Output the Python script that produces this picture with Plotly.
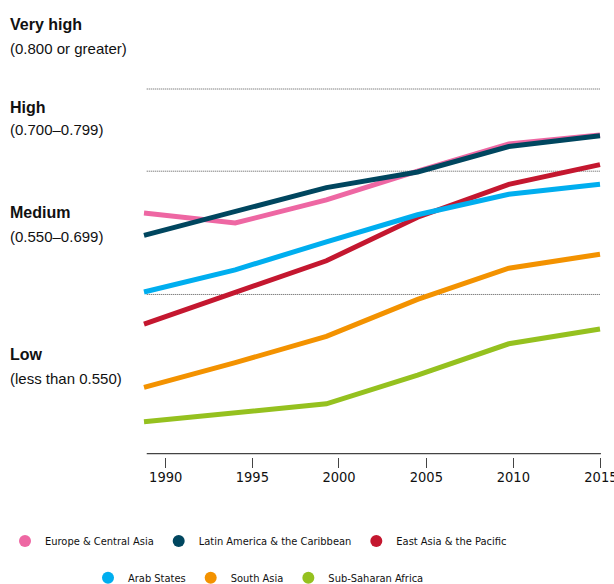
import plotly.graph_objects as go

# ---------------- data ----------------
years = [1990, 1995, 2000, 2005, 2010, 2015]
europe_central_asia = [0.649, 0.637, 0.665, 0.700, 0.733, 0.744]
latin_america_caribbean = [0.622, 0.651, 0.680, 0.699, 0.730, 0.743]
east_asia_pacific = [0.514, 0.552, 0.591, 0.644, 0.684, 0.708]
arab_states = [0.553, 0.580, 0.614, 0.647, 0.672, 0.684]
south_asia = [0.437, 0.467, 0.499, 0.544, 0.582, 0.599]
sub_saharan_africa = [0.395, 0.406, 0.417, 0.452, 0.490, 0.508]

series_names = ["Europe & Central Asia", "Latin America & the Caribbean",
                "East Asia & the Pacific", "Arab States", "South Asia",
                "Sub-Saharan Africa"]
series_values = [europe_central_asia, latin_america_caribbean, east_asia_pacific,
                 arab_states, south_asia, sub_saharan_africa]
series_colors = ["#EE67A3", "#00465F", "#C4172F", "#00AEEF", "#F39200", "#95C11F"]

tick_labels = ["1990", "1995", "2000", "2005", "2010", "2015"]
tick_positions = [1991.19, 1995.94, 2000.69, 2005.48, 2010.25, 2015.05]

threshold_values = [0.800, 0.700, 0.550]
group_titles = ["Very high", "High", "Medium", "Low"]
group_ranges = ["(0.800 or greater)", "(0.700\u20130.799)", "(0.550\u20130.699)",
                "(less than 0.550)"]

# ---------------- layout geometry (pixels) ----------------
W, H = 614, 584
PL, PT, PW = 140, 80, 464
PB = 456.7
PH = PB - PT

def py_to_paper(py):
    return (PB - py) / PH

def px_to_paper(px):
    return (px - PL) / PW

fig = go.Figure()

for name, vals, col in zip(series_names, series_values, series_colors):
    fig.add_trace(go.Scatter(x=years, y=vals, mode="lines", name=name,
                             line=dict(color=col, width=5), showlegend=False,
                             hoverinfo="skip"))

# legend-only entries (circle markers)
for i, (name, col) in enumerate(zip(series_names, series_colors)):
    fig.add_trace(go.Scatter(x=[None], y=[None], mode="markers", name=name,
                             marker=dict(color=col, size=12),
                             legend="legend" if i < 3 else "legend2"))

shapes = []
for v in threshold_values:
    shapes.append(dict(type="line", xref="x", yref="y", x0=1990.15, x1=2015.0,
                       y0=v, y1=v, layer="below",
                       line=dict(color="#555555", width=1, dash="1px,1px")))
# axis line
shapes.append(dict(type="line", xref="x", yref="paper", x0=1990.15, x1=2015.05,
                   y0=py_to_paper(453.3), y1=py_to_paper(453.3), layer="below",
                   line=dict(color="#444444", width=1.3)))

annotations = []
title_centers = [24.4, 107.4, 212.7, 354.4]
range_centers = [48.1, 129.8, 236.3, 377.8]
for t, r, ty, ry in zip(group_titles, group_ranges, title_centers, range_centers):
    annotations.append(dict(text="<b>%s</b>" % t, xref="paper", yref="paper",
                            x=px_to_paper(8), y=py_to_paper(ty), xanchor="left",
                            yanchor="middle", showarrow=False,
                            font=dict(family="Liberation Sans, Arial, sans-serif",
                                      size=16, color="#111111")))
    annotations.append(dict(text=r, xref="paper", yref="paper",
                            x=px_to_paper(8), y=py_to_paper(ry), xanchor="left",
                            yanchor="middle", showarrow=False,
                            font=dict(family="Liberation Sans, Arial, sans-serif",
                                      size=15, color="#111111")))

narrow = "DejaVu Sans Condensed, Liberation Sans Narrow, sans-serif"

y0v = 0.8 - (PB - 89) / 821.2
y1v = 0.8 + (89 - PT) / 821.2
sx = 456 / 25.0
x0v = 1990 - (144 - PL) / sx
x1v = x0v + PW / sx

fig.update_layout(
    width=W, height=H,
    margin=dict(l=PL, r=W - PL - PW, t=PT, b=H - PB, autoexpand=False),
    paper_bgcolor="white", plot_bgcolor="white",
    xaxis=dict(range=[x0v, x1v], showgrid=False, zeroline=False, showline=False,
               tickmode="array", tickvals=tick_positions, ticktext=tick_labels,
               ticks="outside", ticklen=10, tickwidth=1.3, tickcolor="#444444",
               tickfont=dict(family=narrow, size=14.5, color="#111111"),
               ticklabeloverflow="allow", ticklabelstandoff=-3,
               fixedrange=True),
    yaxis=dict(range=[y0v, y1v], visible=False, fixedrange=True),
    shapes=shapes,
    annotations=annotations,
    legend=dict(orientation="h", xref="paper", yref="paper",
                x=px_to_paper(5), y=py_to_paper(540.7), xanchor="left",
                yanchor="middle",
                font=dict(family=narrow, size=11, color="#111111"),
                bgcolor="rgba(0,0,0,0)"),
    legend2=dict(orientation="h", xref="paper", yref="paper",
                 x=px_to_paper(88), y=py_to_paper(577.3), xanchor="left",
                 yanchor="middle",
                 font=dict(family=narrow, size=11, color="#111111"),
                 bgcolor="rgba(0,0,0,0)"),
)

fig.write_html("out.html", config={"displayModeBar": False},
               post_script="document.body.style.margin='0px';")
